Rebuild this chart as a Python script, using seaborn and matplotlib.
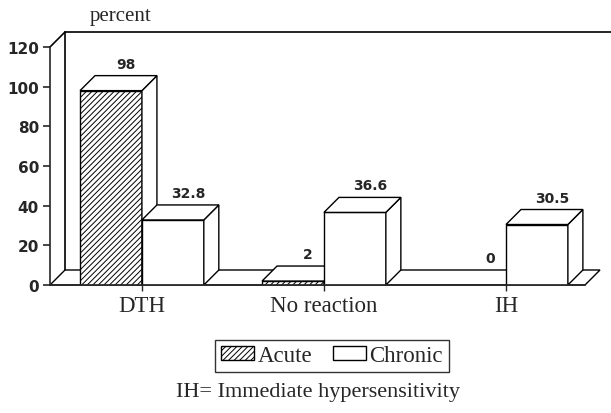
import numpy as np
import pandas as pd
import matplotlib
matplotlib.use("Agg")
import matplotlib.pyplot as plt
import seaborn as sns
from matplotlib.patches import Polygon, Patch

categories = ["DTH", "No reaction", "IH"]
acute = [98, 2, 0]
chronic = [32.8, 36.6, 30.5]
acute_labels = ["98", "2", "0"]
chronic_labels = ["32.8", "36.6", "30.5"]
yticks = [0, 20, 40, 60, 80, 100, 120]

df = pd.DataFrame({
    "cat": categories * 2,
    "series": ["Acute"] * 3 + ["Chronic"] * 3,
    "value": acute + chronic,
})

sns.set_style("white")
plt.rcParams["hatch.linewidth"] = 0.7
plt.rcParams["font.family"] = ["Liberation Serif", "DejaVu Serif"]

W, H, DPI = 6.11, 4.14, 100
fig = plt.figure(figsize=(W, H), dpi=DPI)
left_px, right_px, top_px, bot_px = 50, 585, 48, 286
ax = fig.add_axes([left_px / 611, (414 - bot_px) / 414,
                   (right_px - left_px) / 611, (bot_px - top_px) / 414])

sns.barplot(data=df, x="cat", y="value", hue="series", palette=["white", "white"],
            edgecolor="black", linewidth=1.0, width=0.68, legend=False, ax=ax,
            err_kws={"linewidth": 0})

xmin, xmax = -0.505, 2.434
ymin, ymax = 0, 120
ax.set_xlim(xmin, xmax)
ax.set_ylim(ymin, ymax)

pxx = (right_px - left_px) / (xmax - xmin)
pxy = (bot_px - top_px) / (ymax - ymin)
DX, DY = 15 / pxx, 15 / pxy

# hatch acute
for p in ax.containers[0]:
    p.set_hatch("//////")

# walls & floor
ax.add_patch(Polygon([(xmin, 0), (xmax, 0), (xmax + DX, DY), (xmin + DX, DY)],
                     closed=True, facecolor="white", edgecolor="black", lw=1.0,
                     zorder=1, clip_on=False))
ax.plot([xmin + DX, xmin + DX], [DY, ymax + DY], color="black", lw=1.2, zorder=1, clip_on=False)
ax.plot([xmin, xmin + DX], [ymax, ymax + DY], color="black", lw=1.2, zorder=1, clip_on=False)
ax.plot([xmin + DX, xmax + DX + 11 / pxx], [ymax + DY, ymax + DY], color="black", lw=1.2,
        zorder=1, clip_on=False)

# 3D faces
bars = []
for ci, cont in enumerate(ax.containers):
    labels = acute_labels if ci == 0 else chronic_labels
    for p, lab in zip(cont, labels):
        bars.append((p.get_x(), p, lab))
bars.sort(key=lambda t: t[0])
for i, (x0, p, lab) in enumerate(bars):
    w = p.get_width()
    h = p.get_height()
    z = 10 + 2 * i
    p.set_zorder(z)
    if h > 0:
        top = Polygon([(x0, h), (x0 + w, h), (x0 + w + DX, h + DY), (x0 + DX, h + DY)],
                      closed=True, facecolor="white", edgecolor="black", lw=1.0, zorder=z + 0.5)
        side = Polygon([(x0 + w, 0), (x0 + w + DX, DY), (x0 + w + DX, h + DY), (x0 + w, h)],
                       closed=True, facecolor="white", edgecolor="black", lw=1.0, zorder=z + 0.5)
        ax.add_patch(side)
        ax.add_patch(top)
    ax.text(x0 + w / 2 + DX, h + DY + 5 / pxy, lab, ha="center", va="bottom",
            fontsize=10, fontweight="bold", family="DejaVu Sans", zorder=50)

sns.despine(ax=ax, top=True, right=True)
ax.spines["left"].set_linewidth(1.2)
ax.spines["bottom"].set_linewidth(1.2)
ax.spines["left"].set_zorder(60)
ax.spines["bottom"].set_zorder(60)
ax.set_yticks(yticks)
ax.set_yticklabels([str(t) for t in yticks], family="DejaVu Sans", fontweight="bold", fontsize=11)
ax.tick_params(axis="y", direction="out", length=5, width=1.2, left=True, pad=3)
ax.tick_params(axis="x", direction="out", length=4, width=1.0, bottom=True, pad=3, labelsize=16.5)
ax.set_xlabel("")
ax.set_ylabel("")
ax.patch.set_alpha(0)

fig.text(90 / 611, 1 - 17 / 414, "percent", ha="left", va="center", fontsize=15)

handles = [Patch(facecolor="white", edgecolor="black", hatch="//////", label="Acute"),
           Patch(facecolor="white", edgecolor="black", label="Chronic")]
leg = fig.legend(handles=handles, loc="center", bbox_to_anchor=(332 / 611, 1 - 357 / 414),
                 ncol=2, frameon=True, fancybox=False, fontsize=16.5, handlelength=1.45,
                 handleheight=0.55, handletextpad=0.15, columnspacing=0.9, borderpad=0.25)
leg.get_frame().set_edgecolor("black")
leg.get_frame().set_linewidth(1.0)

fig.text(318 / 611, 1 - 393 / 414, "IH= Immediate hypersensitivity", ha="center", va="center",
         fontsize=16)

fig.savefig("out.png", dpi=DPI)
